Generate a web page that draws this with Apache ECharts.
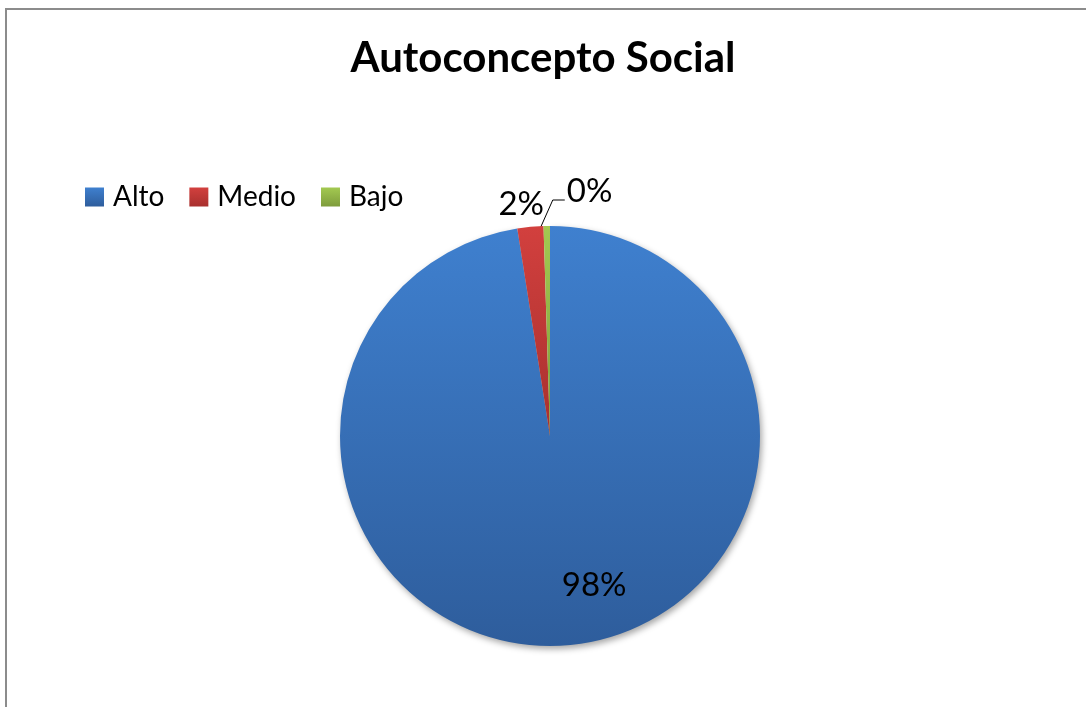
<!DOCTYPE html>
<html>
<head>
<meta charset="utf-8">
<script src="https://cdn.jsdelivr.net/npm/echarts@6/dist/echarts.min.js"></script>
<style>
  html, body { margin: 0; padding: 0; background: #ffffff; overflow: hidden; }
  #frame { position: absolute; left: 5px; top: 8px; width: 1200px; height: 800px;
           border: 2px solid #8c8c8c; box-sizing: border-box; }
  #chart { position: absolute; left: 0; top: 0; width: 1086px; height: 707px; }
</style>
</head>
<body>
<div id="frame"></div>
<div id="chart"></div>
<script>
// Categories and their shares of the total (percent)
const categories = ['Alto', 'Medio', 'Bajo'];
const shares = [97.51, 2.0, 0.49];

// Top / bottom colours of each slice's vertical gradient
const topColors = ['#3f80cf', '#d2403e', '#a3c951'];
const bottomColors = ['#2e5d9c', '#a8302e', '#7e9c3c'];

const FONT = 'Lato, "Open Sans", sans-serif';

function grad(i) {
  return {
    type: 'linear', x: 0, y: 0, x2: 0, y2: 1,
    colorStops: [
      { offset: 0, color: topColors[i] },
      { offset: 1, color: bottomColors[i] }
    ]
  };
}

const pieData = categories.map(function (name, i) {
  const item = {
    name: name,
    value: shares[i],
    itemStyle: { color: grad(i) }
  };
  if (i === 0) {
    item.itemStyle.shadowBlur = 6;
    item.itemStyle.shadowOffsetX = 2;
    item.itemStyle.shadowOffsetY = 3;
    item.itemStyle.shadowColor = 'rgba(0,0,0,0.35)';
    item.label = { position: 'inside' };
    item.labelLine = { show: false };
  } else if (i === 1) {
    item.labelLine = { show: false };
  } else {
    item.labelLine = { show: true, lineStyle: { color: '#000', width: 1 } };
  }
  return item;
});

const chart = echarts.init(document.getElementById('chart'), null, { renderer: 'canvas' });

chart.setOption({
  animation: false,
  backgroundColor: 'transparent',
  title: {
    text: 'Autoconcepto Social',
    left: 'center',
    top: 32,
    textStyle: { fontFamily: FONT, fontWeight: 'bold', fontSize: 42, color: '#000' }
  },
  legend: {
    data: categories,
    left: 80,
    top: 178,
    icon: 'rect',
    itemWidth: 19,
    itemHeight: 19,
    itemGap: 25,
    selectedMode: false,
    textStyle: { fontFamily: FONT, fontSize: 28, color: '#000', padding: [0, 0, 0, 4] }
  },
  series: [{
    type: 'pie',
    center: [550, 436],
    radius: 210,
    startAngle: 90,
    clockwise: true,
    avoidLabelOverlap: false,
    percentPrecision: 0,
    emphasis: { disabled: true },
    label: {
      show: true,
      position: 'outside',
      formatter: '{d}%',
      fontFamily: FONT,
      fontSize: 33,
      color: '#000'
    },
    labelLine: { length: 10, length2: 10 },
    labelLayout: function (p) {
      const r = p.rect;
      if (p.dataIndex === 0) {
        return {
          x: r.x + r.width * 0.605,
          y: r.y + r.height * 0.855,
          align: 'center',
          verticalAlign: 'middle'
        };
      }
      if (p.dataIndex === 1) {
        return {
          x: r.x + r.width - 6,
          y: r.y - 22,
          align: 'right',
          verticalAlign: 'middle'
        };
      }
      const x0 = r.x + r.width / 2 - 6;
      const y0 = r.y + 1;
      return {
        x: x0 + 26,
        y: y0 - 36,
        align: 'left',
        verticalAlign: 'middle',
        labelLinePoints: [[x0, y0], [x0 + 12, y0 - 27], [x0 + 24, y0 - 27]]
      };
    },
    data: pieData
  }]
});
</script>
</body>
</html>
